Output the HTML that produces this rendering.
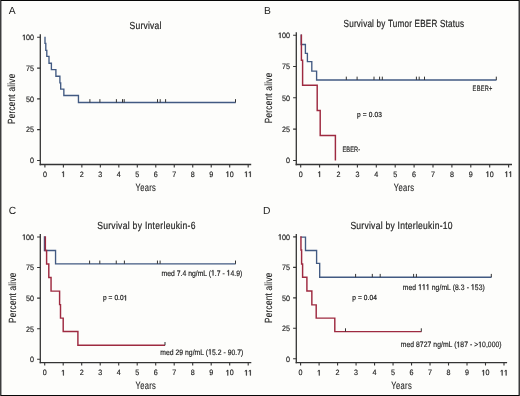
<!DOCTYPE html><html><head><meta charset="utf-8"><style>html,body{margin:0;padding:0;background:#fdfdfb;}svg{display:block;will-change:transform;text-rendering:geometricPrecision;font-family:"Liberation Sans",sans-serif;}</style></head><body>
<svg width="520" height="396" viewBox="0 0 520 396">
<rect width="520" height="396" fill="#fdfdfb"/>
<rect x="0" y="0" width="520" height="1" fill="#070707"/>
<rect x="0" y="395" width="520" height="1" fill="#070707"/>
<rect x="0" y="0" width="1" height="396" fill="#3d3d3d"/>
<rect x="1" y="1" width="1" height="394" fill="#a2a2a2"/>
<rect x="519" y="0" width="1" height="396" fill="#3b3b3b"/>
<rect x="518" y="1" width="1" height="394" fill="#9c9c9c"/>
<text x="8.7" y="14.3" font-size="10.3" fill="#1e1e1e" stroke="#1e1e1e" stroke-width="0">A</text>
<text x="264.1" y="14.2" font-size="10.3" fill="#1e1e1e" stroke="#1e1e1e" stroke-width="0">B</text>
<text x="8.7" y="214.2" font-size="10.3" fill="#1e1e1e" stroke="#1e1e1e" stroke-width="0">C</text>
<text x="262.9" y="214.2" font-size="10.3" fill="#1e1e1e" stroke="#1e1e1e" stroke-width="0">D</text>
<g transform="translate(129.5 29) scale(0.82 1)">
<text x="0" y="0" font-size="10.4" textLength="39.02" lengthAdjust="spacing" fill="#1e1e1e" stroke="#1e1e1e" stroke-width="0.2">Survival</text>
</g>
<g transform="translate(343.6 27.2) scale(0.78 1)">
<text x="0" y="0" font-size="10.4" textLength="154.36" lengthAdjust="spacing" fill="#1e1e1e" stroke="#1e1e1e" stroke-width="0.2">Survival by Tumor EBER Status</text>
</g>
<g transform="translate(97.2 228.9) scale(0.82 1)">
<text x="0" y="0" font-size="10.4" textLength="119.76" lengthAdjust="spacing" fill="#1e1e1e" stroke="#1e1e1e" stroke-width="0.2">Survival by Interleukin-6</text>
</g>
<g transform="translate(350.4 228.8) scale(0.82 1)">
<text x="0" y="0" font-size="10.4" textLength="124.63" lengthAdjust="spacing" fill="#1e1e1e" stroke="#1e1e1e" stroke-width="0.2">Survival by Interleukin-10</text>
</g>
<g transform="translate(135.5 190.8) scale(0.73 1)">
<text x="0" y="0" font-size="10.4" textLength="27.95" lengthAdjust="spacing" fill="#1e1e1e" stroke="#1e1e1e" stroke-width="0.12">Years</text>
</g>
<g transform="translate(393.7 190.8) scale(0.73 1)">
<text x="0" y="0" font-size="10.4" textLength="27.95" lengthAdjust="spacing" fill="#1e1e1e" stroke="#1e1e1e" stroke-width="0.12">Years</text>
</g>
<g transform="translate(135.5 389.2) scale(0.73 1)">
<text x="0" y="0" font-size="10.4" textLength="27.95" lengthAdjust="spacing" fill="#1e1e1e" stroke="#1e1e1e" stroke-width="0.12">Years</text>
</g>
<g transform="translate(391.3 389.2) scale(0.73 1)">
<text x="0" y="0" font-size="10.4" textLength="27.95" lengthAdjust="spacing" fill="#1e1e1e" stroke="#1e1e1e" stroke-width="0.12">Years</text>
</g>
<text transform="translate(15.4 98.9) rotate(-90) scale(0.78 1)" x="0" y="0" font-size="10.4" text-anchor="middle" textLength="64.36" lengthAdjust="spacing" fill="#1e1e1e" stroke="#1e1e1e" stroke-width="0.12">Percent alive</text>
<text transform="translate(272.4 98) rotate(-90) scale(0.78 1)" x="0" y="0" font-size="10.4" text-anchor="middle" textLength="64.62" lengthAdjust="spacing" fill="#1e1e1e" stroke="#1e1e1e" stroke-width="0.12">Percent alive</text>
<text transform="translate(16.2 297.8) rotate(-90) scale(0.78 1)" x="0" y="0" font-size="10.4" text-anchor="middle" textLength="64.36" lengthAdjust="spacing" fill="#1e1e1e" stroke="#1e1e1e" stroke-width="0.12">Percent alive</text>
<text transform="translate(272.4 297.8) rotate(-90) scale(0.78 1)" x="0" y="0" font-size="10.4" text-anchor="middle" textLength="64.36" lengthAdjust="spacing" fill="#1e1e1e" stroke="#1e1e1e" stroke-width="0.12">Percent alive</text>
<path d="M40.3 34.2V165.2" fill="none" stroke="#343434" stroke-width="1.3"/>
<path d="M39.65 164.5H251.2" fill="none" stroke="#343434" stroke-width="1.45"/>
<path d="M37.1 160.45H40.3M37.1 129.66H40.3M37.1 98.87H40.3M37.1 68.09H40.3M37.1 37.3H40.3M44.9 164.5V167.5M63.38 164.5V167.5M81.86 164.5V167.5M100.34 164.5V167.5M118.82 164.5V167.5M137.3 164.5V167.5M155.78 164.5V167.5M174.26 164.5V167.5M192.74 164.5V167.5M211.22 164.5V167.5M229.7 164.5V167.5M248.18 164.5V167.5" stroke="#343434" stroke-width="1.1"/>
<text x="30.11" y="163.25" font-size="7.8" textLength="3.99" lengthAdjust="spacingAndGlyphs" fill="#1e1e1e" stroke="#1e1e1e" stroke-width="0.16">0</text>
<text x="26.12" y="132.46" font-size="7.8" textLength="3.99" lengthAdjust="spacingAndGlyphs" fill="#1e1e1e" stroke="#1e1e1e" stroke-width="0.16">2</text>
<text x="30.11" y="132.46" font-size="7.8" textLength="3.99" lengthAdjust="spacingAndGlyphs" fill="#1e1e1e" stroke="#1e1e1e" stroke-width="0.16">5</text>
<text x="26.12" y="101.67" font-size="7.8" textLength="3.99" lengthAdjust="spacingAndGlyphs" fill="#1e1e1e" stroke="#1e1e1e" stroke-width="0.16">5</text>
<text x="30.11" y="101.67" font-size="7.8" textLength="3.99" lengthAdjust="spacingAndGlyphs" fill="#1e1e1e" stroke="#1e1e1e" stroke-width="0.16">0</text>
<text x="26.12" y="70.89" font-size="7.8" textLength="3.99" lengthAdjust="spacingAndGlyphs" fill="#1e1e1e" stroke="#1e1e1e" stroke-width="0.16">7</text>
<text x="30.11" y="70.89" font-size="7.8" textLength="3.99" lengthAdjust="spacingAndGlyphs" fill="#1e1e1e" stroke="#1e1e1e" stroke-width="0.16">5</text>
<path d="M23.93 40.1L23.93 35.39L22.82 36.25L22.82 35.61L23.99 34.73L24.57 34.73L24.57 40.1Z" fill="#1e1e1e" stroke="#1e1e1e" stroke-width="0.31" stroke-linejoin="round"/>
<text x="26.12" y="40.1" font-size="7.8" textLength="3.99" lengthAdjust="spacingAndGlyphs" fill="#1e1e1e" stroke="#1e1e1e" stroke-width="0.16">0</text>
<text x="30.11" y="40.1" font-size="7.8" textLength="3.99" lengthAdjust="spacingAndGlyphs" fill="#1e1e1e" stroke="#1e1e1e" stroke-width="0.16">0</text>
<text x="42.91" y="176.9" font-size="7.8" textLength="3.99" lengthAdjust="spacingAndGlyphs" fill="#1e1e1e" stroke="#1e1e1e" stroke-width="0.16">0</text>
<path d="M63.19 176.9L63.19 172.19L62.08 173.05L62.08 172.41L63.24 171.53L63.82 171.53L63.82 176.9Z" fill="#1e1e1e" stroke="#1e1e1e" stroke-width="0.31" stroke-linejoin="round"/>
<text x="79.87" y="176.9" font-size="7.8" textLength="3.99" lengthAdjust="spacingAndGlyphs" fill="#1e1e1e" stroke="#1e1e1e" stroke-width="0.16">2</text>
<text x="98.35" y="176.9" font-size="7.8" textLength="3.99" lengthAdjust="spacingAndGlyphs" fill="#1e1e1e" stroke="#1e1e1e" stroke-width="0.16">3</text>
<text x="116.83" y="176.9" font-size="7.8" textLength="3.99" lengthAdjust="spacingAndGlyphs" fill="#1e1e1e" stroke="#1e1e1e" stroke-width="0.16">4</text>
<text x="135.31" y="176.9" font-size="7.8" textLength="3.99" lengthAdjust="spacingAndGlyphs" fill="#1e1e1e" stroke="#1e1e1e" stroke-width="0.16">5</text>
<text x="153.79" y="176.9" font-size="7.8" textLength="3.99" lengthAdjust="spacingAndGlyphs" fill="#1e1e1e" stroke="#1e1e1e" stroke-width="0.16">6</text>
<text x="172.27" y="176.9" font-size="7.8" textLength="3.99" lengthAdjust="spacingAndGlyphs" fill="#1e1e1e" stroke="#1e1e1e" stroke-width="0.16">7</text>
<text x="190.75" y="176.9" font-size="7.8" textLength="3.99" lengthAdjust="spacingAndGlyphs" fill="#1e1e1e" stroke="#1e1e1e" stroke-width="0.16">8</text>
<text x="209.23" y="176.9" font-size="7.8" textLength="3.99" lengthAdjust="spacingAndGlyphs" fill="#1e1e1e" stroke="#1e1e1e" stroke-width="0.16">9</text>
<path d="M227.51 176.9L227.51 172.19L226.4 173.05L226.4 172.41L227.57 171.53L228.15 171.53L228.15 176.9Z" fill="#1e1e1e" stroke="#1e1e1e" stroke-width="0.31" stroke-linejoin="round"/>
<text x="229.7" y="176.9" font-size="7.8" textLength="3.99" lengthAdjust="spacingAndGlyphs" fill="#1e1e1e" stroke="#1e1e1e" stroke-width="0.16">0</text>
<path d="M245.99 176.9L245.99 172.19L244.88 173.05L244.88 172.41L246.05 171.53L246.63 171.53L246.63 176.9Z" fill="#1e1e1e" stroke="#1e1e1e" stroke-width="0.31" stroke-linejoin="round"/>
<path d="M249.98 176.9L249.98 172.19L248.87 173.05L248.87 172.41L250.04 171.53L250.62 171.53L250.62 176.9Z" fill="#1e1e1e" stroke="#1e1e1e" stroke-width="0.31" stroke-linejoin="round"/>
<path d="M296.3 32.2V165.2" fill="none" stroke="#343434" stroke-width="1.3"/>
<path d="M295.65 164.5H512" fill="none" stroke="#343434" stroke-width="1.45"/>
<path d="M293.1 160.45H296.3M293.1 129.14H296.3M293.1 97.82H296.3M293.1 66.51H296.3M293.1 35.2H296.3M300.7 164.5V167.5M319.6 164.5V167.5M338.5 164.5V167.5M357.4 164.5V167.5M376.3 164.5V167.5M395.2 164.5V167.5M414.1 164.5V167.5M433 164.5V167.5M451.9 164.5V167.5M470.8 164.5V167.5M489.7 164.5V167.5M508.6 164.5V167.5" stroke="#343434" stroke-width="1.1"/>
<text x="286.01" y="163.25" font-size="7.8" textLength="3.99" lengthAdjust="spacingAndGlyphs" fill="#1e1e1e" stroke="#1e1e1e" stroke-width="0.16">0</text>
<text x="282.02" y="131.94" font-size="7.8" textLength="3.99" lengthAdjust="spacingAndGlyphs" fill="#1e1e1e" stroke="#1e1e1e" stroke-width="0.16">2</text>
<text x="286.01" y="131.94" font-size="7.8" textLength="3.99" lengthAdjust="spacingAndGlyphs" fill="#1e1e1e" stroke="#1e1e1e" stroke-width="0.16">5</text>
<text x="282.02" y="100.62" font-size="7.8" textLength="3.99" lengthAdjust="spacingAndGlyphs" fill="#1e1e1e" stroke="#1e1e1e" stroke-width="0.16">5</text>
<text x="286.01" y="100.62" font-size="7.8" textLength="3.99" lengthAdjust="spacingAndGlyphs" fill="#1e1e1e" stroke="#1e1e1e" stroke-width="0.16">0</text>
<text x="282.02" y="69.31" font-size="7.8" textLength="3.99" lengthAdjust="spacingAndGlyphs" fill="#1e1e1e" stroke="#1e1e1e" stroke-width="0.16">7</text>
<text x="286.01" y="69.31" font-size="7.8" textLength="3.99" lengthAdjust="spacingAndGlyphs" fill="#1e1e1e" stroke="#1e1e1e" stroke-width="0.16">5</text>
<path d="M279.83 38L279.83 33.29L278.72 34.15L278.72 33.51L279.89 32.63L280.47 32.63L280.47 38Z" fill="#1e1e1e" stroke="#1e1e1e" stroke-width="0.31" stroke-linejoin="round"/>
<text x="282.02" y="38" font-size="7.8" textLength="3.99" lengthAdjust="spacingAndGlyphs" fill="#1e1e1e" stroke="#1e1e1e" stroke-width="0.16">0</text>
<text x="286.01" y="38" font-size="7.8" textLength="3.99" lengthAdjust="spacingAndGlyphs" fill="#1e1e1e" stroke="#1e1e1e" stroke-width="0.16">0</text>
<text x="298.71" y="176.9" font-size="7.8" textLength="3.99" lengthAdjust="spacingAndGlyphs" fill="#1e1e1e" stroke="#1e1e1e" stroke-width="0.16">0</text>
<path d="M319.41 176.9L319.41 172.19L318.3 173.05L318.3 172.41L319.46 171.53L320.04 171.53L320.04 176.9Z" fill="#1e1e1e" stroke="#1e1e1e" stroke-width="0.31" stroke-linejoin="round"/>
<text x="336.51" y="176.9" font-size="7.8" textLength="3.99" lengthAdjust="spacingAndGlyphs" fill="#1e1e1e" stroke="#1e1e1e" stroke-width="0.16">2</text>
<text x="355.41" y="176.9" font-size="7.8" textLength="3.99" lengthAdjust="spacingAndGlyphs" fill="#1e1e1e" stroke="#1e1e1e" stroke-width="0.16">3</text>
<text x="374.31" y="176.9" font-size="7.8" textLength="3.99" lengthAdjust="spacingAndGlyphs" fill="#1e1e1e" stroke="#1e1e1e" stroke-width="0.16">4</text>
<text x="393.21" y="176.9" font-size="7.8" textLength="3.99" lengthAdjust="spacingAndGlyphs" fill="#1e1e1e" stroke="#1e1e1e" stroke-width="0.16">5</text>
<text x="412.11" y="176.9" font-size="7.8" textLength="3.99" lengthAdjust="spacingAndGlyphs" fill="#1e1e1e" stroke="#1e1e1e" stroke-width="0.16">6</text>
<text x="431.01" y="176.9" font-size="7.8" textLength="3.99" lengthAdjust="spacingAndGlyphs" fill="#1e1e1e" stroke="#1e1e1e" stroke-width="0.16">7</text>
<text x="449.91" y="176.9" font-size="7.8" textLength="3.99" lengthAdjust="spacingAndGlyphs" fill="#1e1e1e" stroke="#1e1e1e" stroke-width="0.16">8</text>
<text x="468.81" y="176.9" font-size="7.8" textLength="3.99" lengthAdjust="spacingAndGlyphs" fill="#1e1e1e" stroke="#1e1e1e" stroke-width="0.16">9</text>
<path d="M487.51 176.9L487.51 172.19L486.4 173.05L486.4 172.41L487.57 171.53L488.15 171.53L488.15 176.9Z" fill="#1e1e1e" stroke="#1e1e1e" stroke-width="0.31" stroke-linejoin="round"/>
<text x="489.7" y="176.9" font-size="7.8" textLength="3.99" lengthAdjust="spacingAndGlyphs" fill="#1e1e1e" stroke="#1e1e1e" stroke-width="0.16">0</text>
<path d="M506.41 176.9L506.41 172.19L505.3 173.05L505.3 172.41L506.47 171.53L507.05 171.53L507.05 176.9Z" fill="#1e1e1e" stroke="#1e1e1e" stroke-width="0.31" stroke-linejoin="round"/>
<path d="M510.4 176.9L510.4 172.19L509.29 173.05L509.29 172.41L510.46 171.53L511.04 171.53L511.04 176.9Z" fill="#1e1e1e" stroke="#1e1e1e" stroke-width="0.31" stroke-linejoin="round"/>
<path d="M40.3 234V363.3" fill="none" stroke="#343434" stroke-width="1.3"/>
<path d="M39.65 362.6H251.3" fill="none" stroke="#343434" stroke-width="1.45"/>
<path d="M37.1 359.3H40.3M37.1 328.71H40.3M37.1 298.12H40.3M37.1 267.54H40.3M37.1 236.95H40.3M44.7 362.6V365.6M63.2 362.6V365.6M81.7 362.6V365.6M100.2 362.6V365.6M118.7 362.6V365.6M137.2 362.6V365.6M155.7 362.6V365.6M174.2 362.6V365.6M192.7 362.6V365.6M211.2 362.6V365.6M229.7 362.6V365.6M248.2 362.6V365.6" stroke="#343434" stroke-width="1.1"/>
<text x="30.11" y="362.1" font-size="7.8" textLength="3.99" lengthAdjust="spacingAndGlyphs" fill="#1e1e1e" stroke="#1e1e1e" stroke-width="0.16">0</text>
<text x="26.12" y="331.51" font-size="7.8" textLength="3.99" lengthAdjust="spacingAndGlyphs" fill="#1e1e1e" stroke="#1e1e1e" stroke-width="0.16">2</text>
<text x="30.11" y="331.51" font-size="7.8" textLength="3.99" lengthAdjust="spacingAndGlyphs" fill="#1e1e1e" stroke="#1e1e1e" stroke-width="0.16">5</text>
<text x="26.12" y="300.93" font-size="7.8" textLength="3.99" lengthAdjust="spacingAndGlyphs" fill="#1e1e1e" stroke="#1e1e1e" stroke-width="0.16">5</text>
<text x="30.11" y="300.93" font-size="7.8" textLength="3.99" lengthAdjust="spacingAndGlyphs" fill="#1e1e1e" stroke="#1e1e1e" stroke-width="0.16">0</text>
<text x="26.12" y="270.34" font-size="7.8" textLength="3.99" lengthAdjust="spacingAndGlyphs" fill="#1e1e1e" stroke="#1e1e1e" stroke-width="0.16">7</text>
<text x="30.11" y="270.34" font-size="7.8" textLength="3.99" lengthAdjust="spacingAndGlyphs" fill="#1e1e1e" stroke="#1e1e1e" stroke-width="0.16">5</text>
<path d="M23.93 239.75L23.93 235.04L22.82 235.9L22.82 235.26L23.99 234.38L24.57 234.38L24.57 239.75Z" fill="#1e1e1e" stroke="#1e1e1e" stroke-width="0.31" stroke-linejoin="round"/>
<text x="26.12" y="239.75" font-size="7.8" textLength="3.99" lengthAdjust="spacingAndGlyphs" fill="#1e1e1e" stroke="#1e1e1e" stroke-width="0.16">0</text>
<text x="30.11" y="239.75" font-size="7.8" textLength="3.99" lengthAdjust="spacingAndGlyphs" fill="#1e1e1e" stroke="#1e1e1e" stroke-width="0.16">0</text>
<text x="42.71" y="375.4" font-size="7.8" textLength="3.99" lengthAdjust="spacingAndGlyphs" fill="#1e1e1e" stroke="#1e1e1e" stroke-width="0.16">0</text>
<path d="M63.01 375.4L63.01 370.69L61.9 371.55L61.9 370.91L63.06 370.03L63.64 370.03L63.64 375.4Z" fill="#1e1e1e" stroke="#1e1e1e" stroke-width="0.31" stroke-linejoin="round"/>
<text x="79.71" y="375.4" font-size="7.8" textLength="3.99" lengthAdjust="spacingAndGlyphs" fill="#1e1e1e" stroke="#1e1e1e" stroke-width="0.16">2</text>
<text x="98.21" y="375.4" font-size="7.8" textLength="3.99" lengthAdjust="spacingAndGlyphs" fill="#1e1e1e" stroke="#1e1e1e" stroke-width="0.16">3</text>
<text x="116.71" y="375.4" font-size="7.8" textLength="3.99" lengthAdjust="spacingAndGlyphs" fill="#1e1e1e" stroke="#1e1e1e" stroke-width="0.16">4</text>
<text x="135.21" y="375.4" font-size="7.8" textLength="3.99" lengthAdjust="spacingAndGlyphs" fill="#1e1e1e" stroke="#1e1e1e" stroke-width="0.16">5</text>
<text x="153.71" y="375.4" font-size="7.8" textLength="3.99" lengthAdjust="spacingAndGlyphs" fill="#1e1e1e" stroke="#1e1e1e" stroke-width="0.16">6</text>
<text x="172.21" y="375.4" font-size="7.8" textLength="3.99" lengthAdjust="spacingAndGlyphs" fill="#1e1e1e" stroke="#1e1e1e" stroke-width="0.16">7</text>
<text x="190.71" y="375.4" font-size="7.8" textLength="3.99" lengthAdjust="spacingAndGlyphs" fill="#1e1e1e" stroke="#1e1e1e" stroke-width="0.16">8</text>
<text x="209.21" y="375.4" font-size="7.8" textLength="3.99" lengthAdjust="spacingAndGlyphs" fill="#1e1e1e" stroke="#1e1e1e" stroke-width="0.16">9</text>
<path d="M227.51 375.4L227.51 370.69L226.4 371.55L226.4 370.91L227.57 370.03L228.15 370.03L228.15 375.4Z" fill="#1e1e1e" stroke="#1e1e1e" stroke-width="0.31" stroke-linejoin="round"/>
<text x="229.7" y="375.4" font-size="7.8" textLength="3.99" lengthAdjust="spacingAndGlyphs" fill="#1e1e1e" stroke="#1e1e1e" stroke-width="0.16">0</text>
<path d="M246.01 375.4L246.01 370.69L244.9 371.55L244.9 370.91L246.07 370.03L246.65 370.03L246.65 375.4Z" fill="#1e1e1e" stroke="#1e1e1e" stroke-width="0.31" stroke-linejoin="round"/>
<path d="M250 375.4L250 370.69L248.89 371.55L248.89 370.91L250.06 370.03L250.64 370.03L250.64 375.4Z" fill="#1e1e1e" stroke="#1e1e1e" stroke-width="0.31" stroke-linejoin="round"/>
<path d="M296.3 234V363.3" fill="none" stroke="#343434" stroke-width="1.3"/>
<path d="M295.65 362.6H507.1" fill="none" stroke="#343434" stroke-width="1.45"/>
<path d="M293.1 358.8H296.3M293.1 328.32H296.3M293.1 297.85H296.3M293.1 267.38H296.3M293.1 236.9H296.3M300.6 362.6V365.6M319.09 362.6V365.6M337.58 362.6V365.6M356.07 362.6V365.6M374.56 362.6V365.6M393.05 362.6V365.6M411.54 362.6V365.6M430.03 362.6V365.6M448.52 362.6V365.6M467.01 362.6V365.6M485.5 362.6V365.6M503.99 362.6V365.6" stroke="#343434" stroke-width="1.1"/>
<text x="286.01" y="361.6" font-size="7.8" textLength="3.99" lengthAdjust="spacingAndGlyphs" fill="#1e1e1e" stroke="#1e1e1e" stroke-width="0.16">0</text>
<text x="282.02" y="331.12" font-size="7.8" textLength="3.99" lengthAdjust="spacingAndGlyphs" fill="#1e1e1e" stroke="#1e1e1e" stroke-width="0.16">2</text>
<text x="286.01" y="331.12" font-size="7.8" textLength="3.99" lengthAdjust="spacingAndGlyphs" fill="#1e1e1e" stroke="#1e1e1e" stroke-width="0.16">5</text>
<text x="282.02" y="300.65" font-size="7.8" textLength="3.99" lengthAdjust="spacingAndGlyphs" fill="#1e1e1e" stroke="#1e1e1e" stroke-width="0.16">5</text>
<text x="286.01" y="300.65" font-size="7.8" textLength="3.99" lengthAdjust="spacingAndGlyphs" fill="#1e1e1e" stroke="#1e1e1e" stroke-width="0.16">0</text>
<text x="282.02" y="270.18" font-size="7.8" textLength="3.99" lengthAdjust="spacingAndGlyphs" fill="#1e1e1e" stroke="#1e1e1e" stroke-width="0.16">7</text>
<text x="286.01" y="270.18" font-size="7.8" textLength="3.99" lengthAdjust="spacingAndGlyphs" fill="#1e1e1e" stroke="#1e1e1e" stroke-width="0.16">5</text>
<path d="M279.83 239.7L279.83 234.99L278.72 235.85L278.72 235.21L279.89 234.33L280.47 234.33L280.47 239.7Z" fill="#1e1e1e" stroke="#1e1e1e" stroke-width="0.31" stroke-linejoin="round"/>
<text x="282.02" y="239.7" font-size="7.8" textLength="3.99" lengthAdjust="spacingAndGlyphs" fill="#1e1e1e" stroke="#1e1e1e" stroke-width="0.16">0</text>
<text x="286.01" y="239.7" font-size="7.8" textLength="3.99" lengthAdjust="spacingAndGlyphs" fill="#1e1e1e" stroke="#1e1e1e" stroke-width="0.16">0</text>
<text x="298.61" y="375.4" font-size="7.8" textLength="3.99" lengthAdjust="spacingAndGlyphs" fill="#1e1e1e" stroke="#1e1e1e" stroke-width="0.16">0</text>
<path d="M318.9 375.4L318.9 370.69L317.79 371.55L317.79 370.91L318.95 370.03L319.53 370.03L319.53 375.4Z" fill="#1e1e1e" stroke="#1e1e1e" stroke-width="0.31" stroke-linejoin="round"/>
<text x="335.59" y="375.4" font-size="7.8" textLength="3.99" lengthAdjust="spacingAndGlyphs" fill="#1e1e1e" stroke="#1e1e1e" stroke-width="0.16">2</text>
<text x="354.08" y="375.4" font-size="7.8" textLength="3.99" lengthAdjust="spacingAndGlyphs" fill="#1e1e1e" stroke="#1e1e1e" stroke-width="0.16">3</text>
<text x="372.57" y="375.4" font-size="7.8" textLength="3.99" lengthAdjust="spacingAndGlyphs" fill="#1e1e1e" stroke="#1e1e1e" stroke-width="0.16">4</text>
<text x="391.06" y="375.4" font-size="7.8" textLength="3.99" lengthAdjust="spacingAndGlyphs" fill="#1e1e1e" stroke="#1e1e1e" stroke-width="0.16">5</text>
<text x="409.55" y="375.4" font-size="7.8" textLength="3.99" lengthAdjust="spacingAndGlyphs" fill="#1e1e1e" stroke="#1e1e1e" stroke-width="0.16">6</text>
<text x="428.04" y="375.4" font-size="7.8" textLength="3.99" lengthAdjust="spacingAndGlyphs" fill="#1e1e1e" stroke="#1e1e1e" stroke-width="0.16">7</text>
<text x="446.53" y="375.4" font-size="7.8" textLength="3.99" lengthAdjust="spacingAndGlyphs" fill="#1e1e1e" stroke="#1e1e1e" stroke-width="0.16">8</text>
<text x="465.02" y="375.4" font-size="7.8" textLength="3.99" lengthAdjust="spacingAndGlyphs" fill="#1e1e1e" stroke="#1e1e1e" stroke-width="0.16">9</text>
<path d="M483.31 375.4L483.31 370.69L482.2 371.55L482.2 370.91L483.37 370.03L483.95 370.03L483.95 375.4Z" fill="#1e1e1e" stroke="#1e1e1e" stroke-width="0.31" stroke-linejoin="round"/>
<text x="485.5" y="375.4" font-size="7.8" textLength="3.99" lengthAdjust="spacingAndGlyphs" fill="#1e1e1e" stroke="#1e1e1e" stroke-width="0.16">0</text>
<path d="M501.8 375.4L501.8 370.69L500.69 371.55L500.69 370.91L501.86 370.03L502.44 370.03L502.44 375.4Z" fill="#1e1e1e" stroke="#1e1e1e" stroke-width="0.31" stroke-linejoin="round"/>
<path d="M505.79 375.4L505.79 370.69L504.68 371.55L504.68 370.91L505.85 370.03L506.43 370.03L506.43 375.4Z" fill="#1e1e1e" stroke="#1e1e1e" stroke-width="0.31" stroke-linejoin="round"/>
<path d="M45 36.7V43.4H45.8V50.3H46.8V56.4H49V63.2H51.4V69.6H55.9V76.25H59.9V82.8H60.7V89.05H63.85V95.45H78.45V102.45H235.7" fill="none" stroke="#425a82" stroke-width="1.35" stroke-linejoin="miter" stroke-linecap="butt"/>
<path d="M89.9 99.15V102.45M99.9 99.15V102.45M116.4 99.15V102.45M122.5 99.15V102.45M124.2 99.15V102.45M157.5 99.15V102.45M160.2 99.15V102.45M165.6 99.15V102.45M235.5 99.15V102.45" stroke="#333333" stroke-width="1.0"/>
<path d="M301.2 34.6V44.5H305.4V53.3H307.4V61.6H311.8V71.1H316.6V79.95H496.5" fill="none" stroke="#425a82" stroke-width="1.35" stroke-linejoin="miter" stroke-linecap="butt"/>
<path d="M346.3 76.65V79.95M357.1 76.65V79.95M374 76.65V79.95M379.6 76.65V79.95M382.3 76.65V79.95M416.4 76.65V79.95M419.2 76.65V79.95M424.5 76.65V79.95M496.3 76.65V79.95" stroke="#333333" stroke-width="1.0"/>
<path d="M301.4 34.6V60.2H302.6V85.3H317.2V110.5H320.2V135.4H335.4V160.45H335.4" fill="none" stroke="#9e2a40" stroke-width="1.45" stroke-linejoin="miter" stroke-linecap="butt"/>
<path d="M44.45 236.35V250.5H55.55V263.85H235.7" fill="none" stroke="#425a82" stroke-width="1.35" stroke-linejoin="miter" stroke-linecap="butt"/>
<path d="M89.6 260.55V263.85M99.8 260.55V263.85M116.25 260.55V263.85M124.4 260.55V263.85M157.45 260.55V263.85M160.1 260.55V263.85M235.5 260.55V263.85" stroke="#333333" stroke-width="1.0"/>
<path d="M45.35 236.35V250.4H46.6V264H48.8V277.4H51.05V291.1H59.6V304.6H60.5V318.1H63.2V331.5H77.9V345.3H165" fill="none" stroke="#9e2a40" stroke-width="1.45" stroke-linejoin="miter" stroke-linecap="butt"/>
<path d="M165 342V345.3" stroke="#333333" stroke-width="1.0"/>
<path d="M300.6 237.1H305.5V250.5H316.6V263.4H319.7V277.2H491.5" fill="none" stroke="#425a82" stroke-width="1.35" stroke-linejoin="miter" stroke-linecap="butt"/>
<path d="M355.6 273.9V277.2M372.3 273.9V277.2M380.2 273.9V277.2M413.6 273.9V277.2M416.4 273.9V277.2M491.3 273.9V277.2" stroke="#333333" stroke-width="1.0"/>
<path d="M300.95 236.3V250H301.6V264H302.6V277.2H306.9V291H311.85V304.85H316.2V318.1H334.8V331.6H421.5" fill="none" stroke="#9e2a40" stroke-width="1.45" stroke-linejoin="miter" stroke-linecap="butt"/>
<path d="M345.5 328.3V331.6M421.3 328.3V331.6" stroke="#333333" stroke-width="1.0"/>
<g transform="translate(472.6 90.8) scale(0.72 1)">
<text x="0" y="0" font-size="7.9" textLength="27.5" lengthAdjust="spacing" fill="#1e1e1e" stroke="#1e1e1e" stroke-width="0.18">EBER+</text>
</g>
<g transform="translate(342.4 151.8) scale(0.72 1)">
<text x="0" y="0" font-size="7.9" textLength="24.72" lengthAdjust="spacing" fill="#1e1e1e" stroke="#1e1e1e" stroke-width="0.18">EBER-</text>
</g>
<g transform="translate(357 117.1) scale(0.9 1)">
<text x="0" y="0" font-size="7.3" textLength="27.78" lengthAdjust="spacing" fill="#1e1e1e" stroke="#1e1e1e" stroke-width="0.22">p = 0.03</text>
</g>
<g transform="translate(103 300.4) scale(0.9 1)">
<text id="t0" x="0" y="0" font-size="7.3" textLength="27.11" lengthAdjust="spacing" fill="#1e1e1e" stroke="#1e1e1e" stroke-width="0.22">p = 0.0 </text>
<path d="M24.88 0L24.88 -4.41L23.75 -3.6L23.75 -4.21L24.94 -5.02L25.53 -5.02L25.53 0Z" fill="#1e1e1e" stroke="#1e1e1e" stroke-width="0.37" stroke-linejoin="round"/>
</g>
<g transform="translate(352.3 300) scale(0.9 1)">
<text x="0" y="0" font-size="7.3" textLength="27.33" lengthAdjust="spacing" fill="#1e1e1e" stroke="#1e1e1e" stroke-width="0.22">p = 0.04</text>
</g>
<g transform="translate(161.6 275.6) scale(0.86 1)">
<text id="t1" x="0" y="0" font-size="7.9" textLength="93.72" lengthAdjust="spacing" fill="#1e1e1e" stroke="#1e1e1e" stroke-width="0.18">med 7.4 ng/mL ( .7 -  4.9)</text>
<path d="M59.5 0L59.5 -4.77L58.27 -3.9L58.27 -4.55L59.55 -5.44L60.19 -5.44L60.19 0ZM77.63 0L77.63 -4.77L76.4 -3.9L76.4 -4.55L77.68 -5.44L78.32 -5.44L78.32 0Z" fill="#1e1e1e" stroke="#1e1e1e" stroke-width="0.32999999999999996" stroke-linejoin="round"/>
</g>
<g transform="translate(160.2 354.6) scale(0.86 1)">
<text id="t2" x="0" y="0" font-size="7.9" textLength="96.74" lengthAdjust="spacing" fill="#1e1e1e" stroke="#1e1e1e" stroke-width="0.18">med 29 ng/mL ( 5.2 - 90.7)</text>
<path d="M57.74 0L57.74 -4.77L56.52 -3.9L56.52 -4.55L57.8 -5.44L58.44 -5.44L58.44 0Z" fill="#1e1e1e" stroke="#1e1e1e" stroke-width="0.32999999999999996" stroke-linejoin="round"/>
</g>
<g transform="translate(402.8 289.8) scale(0.86 1)">
<text id="t3" x="0" y="0" font-size="7.9" textLength="95.35" lengthAdjust="spacing" fill="#1e1e1e" stroke="#1e1e1e" stroke-width="0.18">med     ng/mL (8.3 -  53)</text>
<path d="M19.89 0L19.89 -4.77L18.66 -3.9L18.66 -4.55L19.95 -5.44L20.59 -5.44L20.59 0ZM24.37 0L24.37 -4.77L23.14 -3.9L23.14 -4.55L24.43 -5.44L25.07 -5.44L25.07 0ZM28.84 0L28.84 -4.77L27.62 -3.9L27.62 -4.55L28.9 -5.44L29.54 -5.44L29.54 0ZM81.27 0L81.27 -4.77L80.04 -3.9L80.04 -4.55L81.33 -5.44L81.97 -5.44L81.97 0Z" fill="#1e1e1e" stroke="#1e1e1e" stroke-width="0.32999999999999996" stroke-linejoin="round"/>
</g>
<g transform="translate(400.7 347.2) scale(0.86 1)">
<text id="t4" x="0" y="0" font-size="7.9" textLength="117.33" lengthAdjust="spacing" fill="#1e1e1e" stroke="#1e1e1e" stroke-width="0.18">med 8727 ng/mL ( 87 - &gt; 0,000)</text>
<path d="M66.86 0L66.86 -4.77L65.63 -3.9L65.63 -4.55L66.92 -5.44L67.56 -5.44L67.56 0ZM92.13 0L92.13 -4.77L90.91 -3.9L90.91 -4.55L92.19 -5.44L92.83 -5.44L92.83 0Z" fill="#1e1e1e" stroke="#1e1e1e" stroke-width="0.32999999999999996" stroke-linejoin="round"/>
</g>
</svg></body></html>
